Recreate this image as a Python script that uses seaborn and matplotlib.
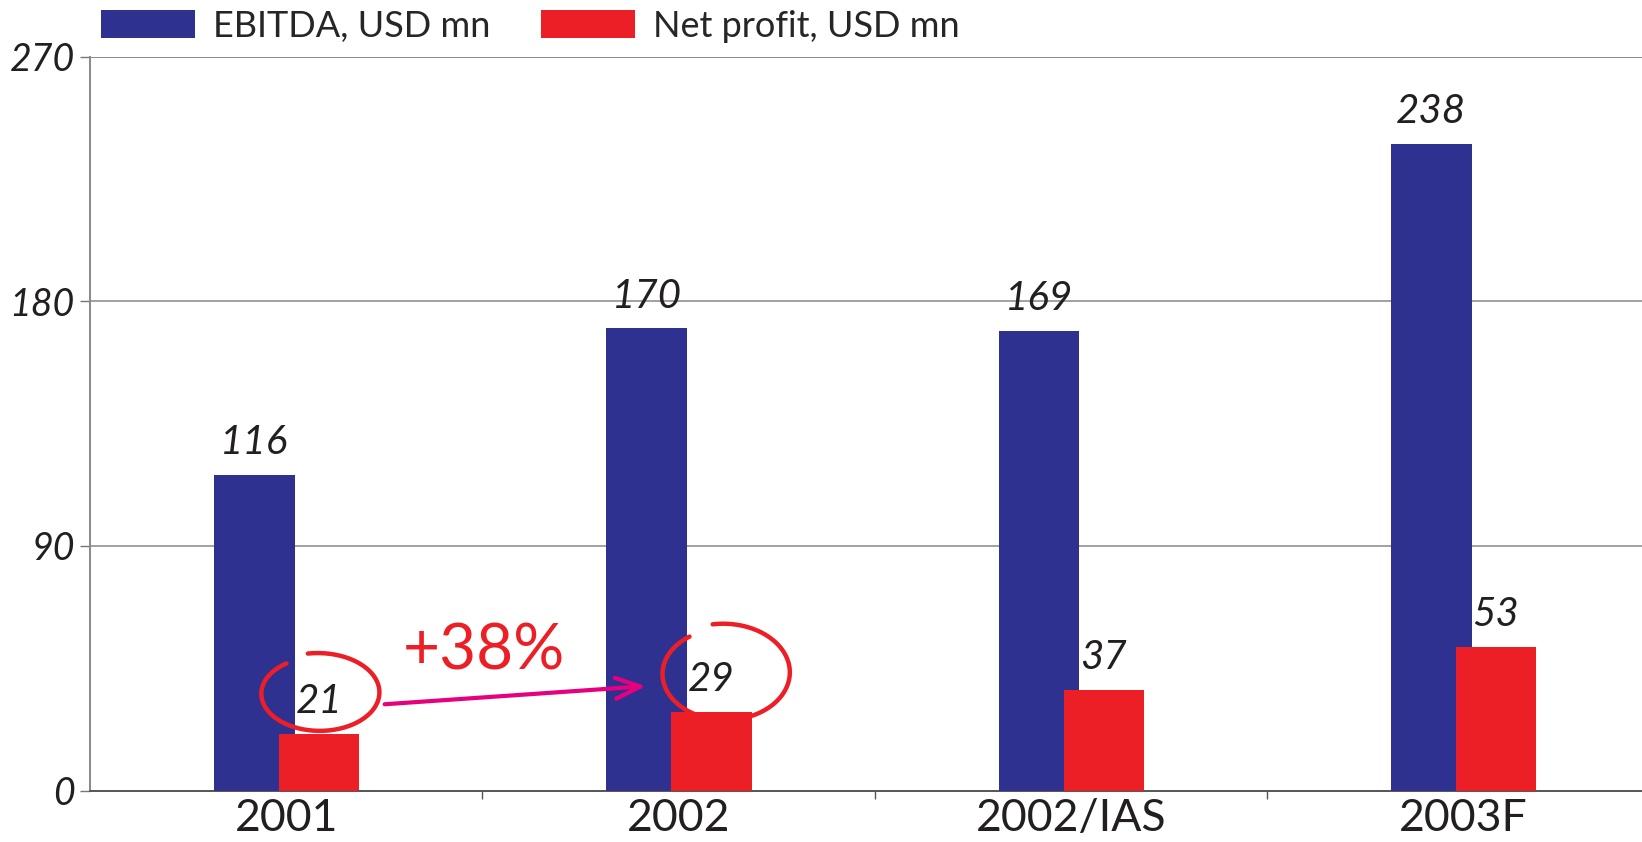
import numpy as np
import seaborn as sns
import matplotlib.pyplot as plt
import pandas as pd
from matplotlib.patches import Patch

# Data
years = ["2001", "2002", "2002/IAS", "2003F"]
ebitda = [116, 170, 169, 238]
net_profit = [21, 29, 37, 53]
series_names = ["EBITDA, USD mn", "Net profit, USD mn"]
growth_label = "+38%"

blue = "#2E3190"
red = "#ED1F26"
magenta = "#E6007E"

sns.set_style("white")
plt.rcParams['font.family'] = ['Lato', 'DejaVu Sans']

df = pd.DataFrame({
    "year": years * 2,
    "value": ebitda + net_profit,
    "series": [series_names[0]] * len(years) + [series_names[1]] * len(years),
})

fig = plt.figure(figsize=(16.42, 8.42), dpi=100)
ax = fig.add_axes([0.0548, 0.0610, 0.9452, 0.8718])

sns.barplot(data=df, x="year", y="value", hue="series", order=years,
            hue_order=series_names, palette=[blue, red], width=0.414,
            saturation=1, legend=False, ax=ax, zorder=3)

# overlapping bars: move each series a bit toward the centre
bar_w = 0.205
offsets = [-0.081, 0.084]
for cont, off in zip(ax.containers, offsets):
    for i, p in enumerate(cont.patches):
        p.set_width(bar_w)
        p.set_x(i + off - bar_w / 2)
        p.set_linewidth(0)

# value labels
for vals, off in zip([ebitda, net_profit], offsets):
    for i, v in enumerate(vals):
        ax.annotate(str(v), (i + off, v), xytext=(0, 10), textcoords="offset points",
                    ha="center", va="bottom", fontsize=29, style="italic",
                    color="#231F20", zorder=5)

# axes styling
ax.set_ylim(0, 270)
ax.set_xlim(-0.5, 3.456)
ax.set_yticks([0, 90, 180, 270])
ax.set_yticklabels(["0", "90", "180", "270"], fontsize=27, style="italic", color="#231F20")
ax.tick_params(axis="y", direction="out", length=7, width=1, color="#777777", pad=4, left=True)
ax.tick_params(axis="x", which="major", length=0, labelsize=32, labelcolor="#231F20", pad=5)
ax.set_xticks([0.5, 1.5, 2.5], minor=True)
ax.tick_params(axis="x", which="minor", direction="out", length=6, width=1, color="#555555", bottom=True)
ax.set_xlabel("")
ax.set_ylabel("")
for y in [90, 180, 270]:
    ax.axhline(y, color="#888888", lw=1.4 if y == 270 else 1.1, zorder=1)
for s in ["top", "right"]:
    ax.spines[s].set_visible(False)
ax.spines["left"].set_color("#888888")
ax.spines["left"].set_linewidth(1.4)
ax.spines["bottom"].set_color("#555555")
ax.spines["bottom"].set_linewidth(1.4)


# hand-drawn style loops (open ellipse, gap at upper left)
def loop(cx, cy, w, h):
    t = np.radians(np.linspace(100, 100 - 335, 200))
    shrink = np.linspace(1.0, 0.9, t.size)
    ax.plot(cx + w / 2 * np.cos(t) * shrink, cy + h / 2 * np.sin(t) * shrink,
            color=red, lw=3.2, solid_capstyle="round", zorder=6)


loop(0.083, 35.9, 0.319, 29.5)
loop(1.117, 43.2, 0.344, 36.5)
ax.text(0.503, 51.3, growth_label, ha="center", va="center", fontsize=46,
        fontweight="normal", color=red, zorder=6)
ax.annotate("", xy=(0.924, 38.5), xytext=(0.244, 31.7),
            arrowprops=dict(arrowstyle="->,head_length=1.8,head_width=0.75",
                            color=magenta, lw=3), zorder=6)

# legend on top
handles = [Patch(facecolor=blue, edgecolor="none"), Patch(facecolor=red, edgecolor="none")]
fig.legend(handles, series_names, loc="upper left", bbox_to_anchor=(0.042, 1.027),
           ncol=2, frameon=False, fontsize=26, handlelength=2.6, handleheight=0.8,
           columnspacing=1.4, handletextpad=0.5)

fig.savefig("out.png", dpi=100)
